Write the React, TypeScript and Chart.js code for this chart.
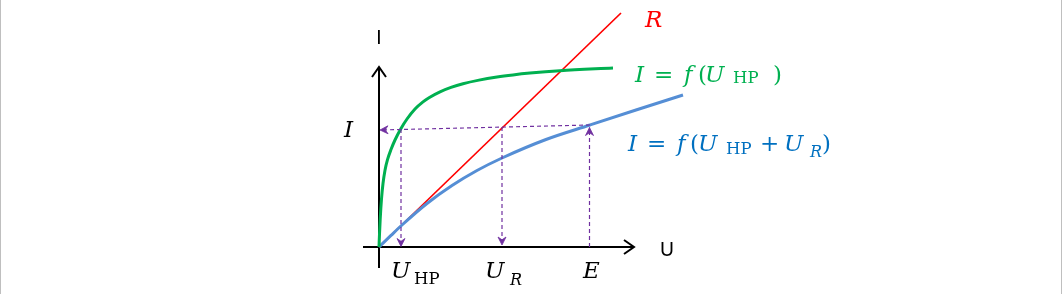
import React, { useEffect, useRef } from "react";
import { Chart, registerables } from "chart.js";

Chart.register(...registerables);

// ---- scale extents (U horizontal, I vertical, arbitrary units) ----
const U_MIN = -37.9;
const U_MAX = 68.4;
const I_MIN = -4.7;
const I_MAX = 24.7;

// ---- characteristic curves ----
const GREEN_U = [0, 0.05, 0.12, 0.25, 0.4, 0.6, 0.85, 1.2, 1.6, 2.2, 2.8, 3.6, 4.4, 5.0, 6.1, 7.2, 8.4, 10.0, 11.8, 13.4, 15.1, 18.1, 23.4];
const GREEN_I = [0, 1.28, 2.77, 4.8, 6.35, 7.68, 8.73, 9.75, 10.7, 11.85, 12.8, 13.8, 14.51, 14.93, 15.52, 15.96, 16.33, 16.69, 17.0, 17.21, 17.39, 17.63, 17.9];

const BLUE_U = [0, 1.2, 2.3, 4.8, 7.3, 9.8, 12.3, 16.7, 21.1, 25.7, 30.4];
const BLUE_I = [0, 1.16, 2.2, 4.35, 6.15, 7.65, 8.9, 10.75, 12.2, 13.7, 15.2];

const RED_U = [0, 24.2];
const RED_I = [0, 23.4];

// ---- construction lines (dashed) ----
const H_U = [21.1, 0.1];
const H_I = [12.2, 11.7];
const V_HP_U = [2.2, 2.2];
const V_HP_I = [11.8, 0.05];
const V_R_U = [12.3, 12.3];
const V_R_I = [12.0, 0.2];
const V_E_U = [21.05, 21.05];
const V_E_I = [0, 11.95];

// ---- axes ----
const XAXIS_U = [-1.6, 25.5];
const XAXIS_I = [0, 0];
const YAXIS_U = [0, 0];
const YAXIS_I = [-2.1, 18.0];

// ---- label anchors (data units) ----
const LABEL_ANCHORS = {
  axisI: [0, 20.3],
  axisU: [28.1, -0.9],
  R: [26.6, 22.0],
  I: [-3.5, 11.0],
  UHP: [1.2, -3.1],
  UR: [10.6, -3.1],
  E: [20.4, -3.1],
  green: [25.6, 16.5],
  blue: [24.9, 9.6],
};

const GREEN = "#00B050";
const BLUE_LINE = "#558ED5";
const BLUE_TEXT = "#0070C0";
const RED = "#FF0000";
const PURPLE = "#7030A0";

const SERIF = '"DejaVu Serif", "Liberation Serif", serif';
const FONTS: Record<string, string> = {
  i: `italic 23px ${SERIF}`,
  r: `23px ${SERIF}`,
  rs: `16.5px ${SERIF}`,
  is: `italic 16px ${SERIF}`,
  sans: `19px Lato, "Open Sans", sans-serif`,
};

type Run = { t: string; f: string; dx: number; dy?: number; align?: CanvasTextAlign };
type Label = { key: keyof typeof LABEL_ANCHORS; color: string; runs: Run[] };

const LABELS: Label[] = [
  { key: "axisI", color: "#000", runs: [{ t: "I", f: "sans", dx: 0, align: "center" }] },
  { key: "axisU", color: "#000", runs: [{ t: "U", f: "sans", dx: 0 }] },
  { key: "R", color: RED, runs: [{ t: "R", f: "i", dx: 0 }] },
  { key: "I", color: "#000", runs: [{ t: "I", f: "i", dx: 0 }] },
  {
    key: "UHP",
    color: "#000",
    runs: [
      { t: "U", f: "i", dx: 0 },
      { t: "HP", f: "rs", dx: 23, dy: 6 },
    ],
  },
  {
    key: "UR",
    color: "#000",
    runs: [
      { t: "U", f: "i", dx: 0 },
      { t: "R", f: "is", dx: 25, dy: 7 },
    ],
  },
  { key: "E", color: "#000", runs: [{ t: "E", f: "i", dx: 0 }] },
  {
    key: "green",
    color: GREEN,
    runs: [
      { t: "I", f: "i", dx: 0 },
      { t: "=", f: "r", dx: 19 },
      { t: "f", f: "i", dx: 49 },
      { t: "(", f: "r", dx: 63 },
      { t: "U", f: "i", dx: 70 },
      { t: "HP", f: "rs", dx: 98, dy: 1 },
      { t: ")", f: "r", dx: 138 },
    ],
  },
  {
    key: "blue",
    color: BLUE_TEXT,
    runs: [
      { t: "I", f: "i", dx: 0 },
      { t: "=", f: "r", dx: 19 },
      { t: "f", f: "i", dx: 49 },
      { t: "(", f: "r", dx: 62 },
      { t: "U", f: "i", dx: 70 },
      { t: "HP", f: "rs", dx: 98, dy: 3 },
      { t: "+", f: "r", dx: 132 },
      { t: "U", f: "i", dx: 156 },
      { t: "R", f: "is", dx: 182, dy: 6 },
      { t: ")", f: "r", dx: 194 },
    ],
  },
];

const pts = (us: number[], is: number[]) => us.map((u, k) => ({ x: u, y: is[k] }));

// arrowheads: dataset label -> style
const ARROWS: Record<string, "axis" | "small"> = {
  xaxis: "axis",
  yaxis: "axis",
  h: "small",
  vhp: "small",
  vr: "small",
  ve: "small",
};

const diagramPlugin = {
  id: "diagram",
  beforeDraw(chart: any) {
    const { ctx, width, height } = chart;
    ctx.save();
    ctx.fillStyle = "#ffffff";
    ctx.fillRect(0, 0, width, height);
    ctx.fillStyle = "#BFBFBF";
    ctx.fillRect(0, 0, 1, height);
    ctx.fillRect(1061, 0, 1, height);
    ctx.restore();
  },
  afterDatasetsDraw(chart: any) {
    const ctx: CanvasRenderingContext2D = chart.ctx;
    const xs = chart.scales.x;
    const ys = chart.scales.y;
    ctx.save();
    chart.data.datasets.forEach((ds: any) => {
      const kind = ARROWS[ds.label];
      if (!kind) return;
      const d = ds.data;
      const a = d[d.length - 2];
      const b = d[d.length - 1];
      const x1 = xs.getPixelForValue(a.x);
      const y1 = ys.getPixelForValue(a.y);
      const x2 = xs.getPixelForValue(b.x);
      const y2 = ys.getPixelForValue(b.y);
      const ang = Math.atan2(y2 - y1, x2 - x1);
      const len = kind === "axis" ? 10 : 8;
      const half = kind === "axis" ? 7 : 4;
      const bx = x2 - Math.cos(ang) * len;
      const by = y2 - Math.sin(ang) * len;
      const px = -Math.sin(ang) * half;
      const py = Math.cos(ang) * half;
      ctx.setLineDash([]);
      if (kind === "axis") {
        ctx.strokeStyle = "#000";
        ctx.lineWidth = 2;
        ctx.lineJoin = "miter";
        ctx.beginPath();
        ctx.moveTo(bx + px, by + py);
        ctx.lineTo(x2, y2);
        ctx.lineTo(bx - px, by - py);
        ctx.stroke();
      } else {
        const nx = x2 - Math.cos(ang) * len * 0.65;
        const ny = y2 - Math.sin(ang) * len * 0.65;
        ctx.fillStyle = PURPLE;
        ctx.strokeStyle = PURPLE;
        ctx.lineWidth = 0.8;
        ctx.beginPath();
        ctx.moveTo(x2, y2);
        ctx.lineTo(bx + px, by + py);
        ctx.lineTo(nx, ny);
        ctx.lineTo(bx - px, by - py);
        ctx.closePath();
        ctx.fill();
        ctx.stroke();
      }
    });

    ctx.textBaseline = "alphabetic";
    LABELS.forEach((lab) => {
      const [u, i] = LABEL_ANCHORS[lab.key];
      const ax = xs.getPixelForValue(u);
      const ay = ys.getPixelForValue(i);
      ctx.fillStyle = lab.color;
      lab.runs.forEach((r) => {
        ctx.font = FONTS[r.f];
        ctx.textAlign = r.align || "left";
        ctx.fillText(r.t, ax + r.dx, ay + (r.dy || 0));
      });
    });
    ctx.restore();
  },
};

export default function App() {
  const ref = useRef<HTMLCanvasElement | null>(null);

  useEffect(() => {
    if (!ref.current) return;
    const line = (label: string, data: any[], color: string, width: number, order: number, extra: any = {}) => ({
      label,
      data,
      borderColor: color,
      backgroundColor: color,
      borderWidth: width,
      pointRadius: 0,
      showLine: true,
      fill: false,
      order,
      ...extra,
    });
    const dash = { borderDash: [4, 3] };
    const smooth = { cubicInterpolationMode: "monotone" };
    const chart = new Chart(ref.current, {
      type: "scatter",
      data: {
        datasets: [
          line("xaxis", pts(XAXIS_U, XAXIS_I), "#000", 2, 10),
          line("yaxis", pts(YAXIS_U, YAXIS_I), "#000", 2, 10),
          line("red", pts(RED_U, RED_I), RED, 1.7, 5),
          line("blue", pts(BLUE_U, BLUE_I), BLUE_LINE, 3, 4, smooth),
          line("green", pts(GREEN_U, GREEN_I), GREEN, 3, 3, smooth),
          line("h", pts(H_U, H_I), PURPLE, 1.2, 1, dash),
          line("vhp", pts(V_HP_U, V_HP_I), PURPLE, 1.2, 1, dash),
          line("vr", pts(V_R_U, V_R_I), PURPLE, 1.2, 1, dash),
          line("ve", pts(V_E_U, V_E_I), PURPLE, 1.2, 1, dash),
        ],
      },
      options: {
        responsive: false,
        animation: false,
        layout: { padding: 0 },
        scales: {
          x: { type: "linear", min: U_MIN, max: U_MAX, display: false },
          y: { type: "linear", min: I_MIN, max: I_MAX, display: false },
        },
        plugins: {
          legend: { display: false },
          tooltip: { enabled: false },
        },
        events: [],
      },
      plugins: [diagramPlugin],
    });
    return () => chart.destroy();
  }, []);

  return (
    <div style={{ position: "absolute", left: 0, top: 0, width: 1063, height: 294, background: "#fff" }}>
      <canvas ref={ref} width={1063} height={294} style={{ display: "block" }} />
    </div>
  );
}
